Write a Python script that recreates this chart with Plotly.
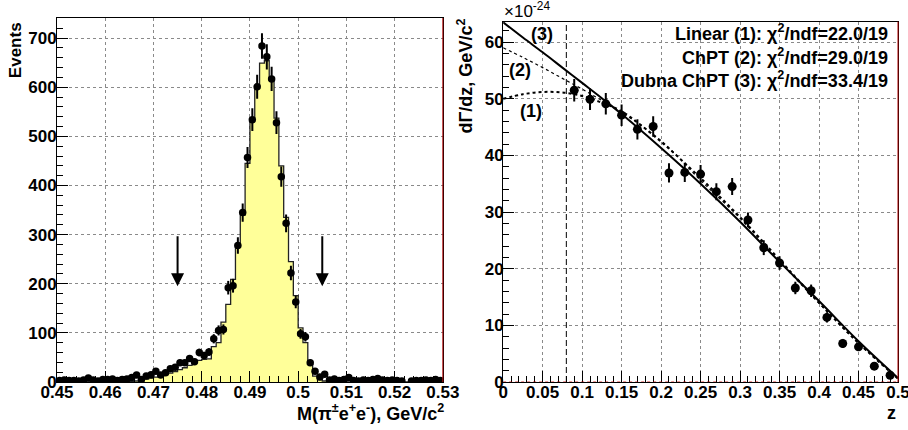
import numpy as np
import plotly.graph_objects as go
from plotly.subplots import make_subplots

# ---------------- left panel data ----------------
mass_centers = [round(0.4505 + 0.001 * i, 4) for i in range(80)]
data_events = [3, 4, 3, 3, 2, 4, 8, 4, 2, 5,
               5, 6, 3, 5, 6, 9, 14, 5, 12, 15,
               22, 14, 19, 27, 30, 39, 39, 48, 41, 60,
               54, 61, 88, 105, 107, 192, 196, 278, 345, 457,
               534, 601, 684, 662, 617, 528, 418, 323, 222, 163,
               98, 92, 39, 22, 10, 16, 4, 6, 3, 5,
               9, 3, 2, 4, 3, 5, 7, 4, 3, 4,
               3, 2, None, 2, 3, 3, 4, 3, 5, 3]
mc_events = [0, 0, 0, 0, 0, 0, 0, 0, 0, 1,
             1, 1, 1, 1, 1, 1, 2, 4, 6, 8,
             10, 12, 15, 18, 21, 25, 29, 34, 40, 44,
             46, 47, 72, 80, 122, 158, 209, 280, 340, 445,
             537, 601, 649, 654, 615, 537, 440, 335, 245, 176,
             110, 80, 36, 12, 5, 2, 1, 1, 1, 0,
             0, 0, 0, 0, 0, 0, 0, 0, 0, 0,
             0, 0, 0, 0, 0, 0, 0, 0, 0, 0]
mass_cuts = [0.475, 0.505]
arrow_tail, arrow_tip = 300, 195
mass_ticks = [0.45, 0.46, 0.47, 0.48, 0.49, 0.50, 0.51, 0.52, 0.53]
mass_tick_text = ["0.45", "0.46", "0.47", "0.48", "0.49", "0.5", "0.51", "0.52", "0.53"]
events_ticks = [0, 100, 200, 300, 400, 500, 600, 700]
events_tick_text = ["0", "100", "200", "300", "400", "500", "600", "700"]

# ---------------- right panel data ----------------
z_points = [0.09, 0.11, 0.13, 0.15, 0.17, 0.19, 0.21, 0.23, 0.25, 0.27, 0.29,
            0.31, 0.33, 0.35, 0.37, 0.39, 0.41, 0.43, 0.45, 0.47, 0.49]
rate_values = [51.5, 49.9, 49.1, 47.1, 44.6, 45.1, 36.9, 37.0, 36.7, 33.6, 34.5,
               28.6, 23.7, 21.0, 16.6, 16.1, 11.4, 6.8, 6.2, 2.8, 1.2]
rate_errors = [2.0, 1.9, 1.9, 1.9, 1.8, 1.8, 1.7, 1.7, 1.6, 1.5, 1.5,
               1.3, 1.3, 1.2, 1.1, 1.1, 0.9, 0.8, 0.7, 0.5, 0.4]
z_curve = [0, 0.025, 0.05, 0.075, 0.1, 0.125, 0.15, 0.2, 0.25, 0.3, 0.35, 0.4, 0.45, 0.5]
curve_linear = [50.0, 50.8, 51.2, 51.1, 50.5, 49.3, 47.8, 42.4, 36.0, 29.1, 21.6, 14.0, 6.9, 0.6]
curve_chpt = [59.0, 57.3, 55.5, 53.6, 51.7, 49.7, 47.6, 42.6, 35.6, 28.9, 21.3, 13.9, 6.8, 0.6]
curve_dubna = [63.5, 60.8, 58.2, 55.5, 52.8, 50.1, 47.3, 41.3, 35.0, 28.3, 21.2, 14.3, 7.2, 0.7]
z_cut = 0.08
z_ticks = [0, 0.05, 0.1, 0.15, 0.2, 0.25, 0.3, 0.35, 0.4, 0.45, 0.5]
z_tick_text = ["0", "0.05", "0.1", "0.15", "0.2", "0.25", "0.3", "0.35", "0.4", "0.45", "0.5"]
rate_ticks = [0, 10, 20, 30, 40, 50, 60]
rate_tick_text = ["0", "10", "20", "30", "40", "50", "60"]
fit_labels = ["Linear (1): \u03c7<sup>2</sup>/ndf=22.0/19",
              "ChPT (2): \u03c7<sup>2</sup>/ndf=29.0/19",
              "Dubna ChPT (3): \u03c7<sup>2</sup>/ndf=33.4/19"]


def b(s):
    return "<b>" + s + "</b>"


FONT = "Liberation Sans"
W, H = 908, 430

fig = make_subplots(rows=1, cols=2)

# MC histogram fill + outline
fig.add_trace(go.Bar(x=mass_centers, y=mc_events, width=0.001,
                     marker=dict(color="#ffff99", line=dict(width=0)),
                     showlegend=False, hoverinfo="skip"), row=1, col=1)
fig.add_trace(go.Scatter(x=mass_centers, y=mc_events, mode="lines",
                         line=dict(shape="hvh", color="#222222", width=1.3),
                         showlegend=False, hoverinfo="skip"), row=1, col=1)
errs = [None if v is None else float(np.sqrt(v)) for v in data_events]
fig.add_trace(go.Scatter(x=mass_centers, y=data_events, mode="markers",
                         marker=dict(color="black", size=7.5, symbol="circle"),
                         error_y=dict(type="data", array=errs, thickness=2, width=0, color="black"),
                         showlegend=False), row=1, col=1)

# right panel curves
fig.add_trace(go.Scatter(x=z_curve, y=curve_linear, mode="lines",
                         line=dict(color="black", width=2, dash="dot", shape="spline"),
                         showlegend=False), row=1, col=2)
fig.add_trace(go.Scatter(x=z_curve, y=curve_chpt, mode="lines",
                         line=dict(color="black", width=1.2, dash="dot", shape="spline"),
                         showlegend=False), row=1, col=2)
fig.add_trace(go.Scatter(x=z_curve, y=curve_dubna, mode="lines",
                         line=dict(color="black", width=2, shape="spline"),
                         showlegend=False), row=1, col=2)
fig.add_trace(go.Scatter(x=z_points, y=rate_values, mode="markers",
                         marker=dict(color="black", size=9),
                         error_y=dict(type="data", array=rate_errors, thickness=2, width=0, color="black"),
                         showlegend=False), row=1, col=2)

fig.add_vline(x=z_cut, line=dict(color="black", width=1, dash="6px,3px"), row=1, col=2)
fig.add_hline(y=0, line=dict(color="rgba(210,0,0,0.8)", width=1, dash="dot"), row=1, col=2)

tickfont = dict(family=FONT, size=17, color="black", weight="bold")
grid = dict(showgrid=True, gridcolor="#8a8a8a", griddash="dot", gridwidth=1,
            zeroline=False, showline=True, linecolor="black", linewidth=1, mirror=True,
            ticks="inside", ticklen=11, tickcolor="black", tickwidth=1, tickfont=tickfont,
            automargin=False, ticklabeloverflow="allow")

fig.update_xaxes(range=[0.45, 0.53], tickvals=mass_ticks, ticktext=[b(t) for t in mass_tick_text],
                 minor=dict(dtick=0.002, tick0=0.45, ticklen=6, ticks="inside", tickcolor="black", showgrid=False),
                 domain=[0, 0.4588], ticklabelstandoff=-5, **grid, row=1, col=1)
fig.update_yaxes(range=[0, 741], tickvals=events_ticks, ticktext=[b(t) for t in events_tick_text],
                 minor=dict(dtick=20, tick0=0, ticklen=6, ticks="inside", tickcolor="black", showgrid=False),
                 domain=[0, 1], ticklabelstandoff=-4, **grid, row=1, col=1)
fig.update_xaxes(range=[0, 0.5], tickvals=z_ticks, ticktext=[b(t) for t in z_tick_text],
                 minor=dict(dtick=0.01, tick0=0, ticklen=6, ticks="inside", tickcolor="black", showgrid=False),
                 domain=[0.5305, 1], ticklabelstandoff=-5, **grid, row=1, col=2)
fig.update_yaxes(range=[0, 63.6], tickvals=rate_ticks, ticktext=[b(t) for t in rate_tick_text],
                 minor=dict(dtick=2, tick0=0, ticklen=6, ticks="inside", tickcolor="black", showgrid=False),
                 domain=[0, 0.9898], ticklabelstandoff=-5, **grid, row=1, col=2)

# cut arrows
for c in mass_cuts:
    fig.add_annotation(x=c, y=arrow_tip, ax=c, ay=arrow_tail, xref="x", yref="y", axref="x", ayref="y",
                       showarrow=True, arrowhead=2, arrowsize=1.3, arrowwidth=2, arrowcolor="black", text="")

afont = dict(family=FONT, size=18, color="black", weight="bold")
# axis titles
fig.add_annotation(text=b("M(\u03c0<sup>\u00b1</sup>e<sup>+</sup>e<sup>-</sup>), GeV/c<sup>2</sup>"),
                   xref="x domain", yref="y domain", x=1.007, y=-0.083, xanchor="right", yanchor="middle",
                   showarrow=False, font=afont)
fig.add_annotation(text=b("Events"), textangle=-90, xref="x domain", yref="y domain",
                   x=-0.108, y=0.995, xanchor="center", yanchor="top", showarrow=False,
                   font=dict(family=FONT, size=17, color="black", weight="bold"))
fig.add_annotation(text=b("z"), xref="x2 domain", yref="y2 domain", x=1.0, y=-0.085,
                   xanchor="right", yanchor="middle", showarrow=False, font=afont)
fig.add_annotation(text=b("d\u0393/dz, GeV/c<sup>2</sup>"), textangle=-90, xref="x2 domain", yref="y2 domain",
                   x=-0.095, y=1.015, xanchor="center", yanchor="top", showarrow=False, font=afont)
fig.add_annotation(text="\u00d710<sup>-24</sup>", xref="x2 domain", yref="y2 domain",
                   x=-0.003, y=0.996, xanchor="left", yanchor="bottom", showarrow=False,
                   font=dict(family=FONT, size=17, color="black"))

# fit legend
for lbl, yy in zip(fit_labels, [0.959, 0.893, 0.830]):
    fig.add_annotation(text=b(lbl), xref="x2 domain", yref="paper", x=0.98, y=yy,
                       xanchor="right", yanchor="middle", showarrow=False, font=afont)
# curve labels
for lbl, xx, yy in [("(3)", 0.098, 0.955), ("(2)", 0.043, 0.857), ("(1)", 0.07, 0.745)]:
    fig.add_annotation(text=b(lbl), xref="x2 domain", yref="paper", x=xx, y=yy,
                       xanchor="center", yanchor="middle", showarrow=False, font=afont)

# red right edges of frames
for xr, yr in [("x domain", "y domain"), ("x2 domain", "y2 domain")]:
    fig.add_shape(type="line", xref=xr, yref=yr, x0=1, x1=1, y0=0, y1=1,
                  line=dict(color="#b00000", width=1), layer="above")

fig.update_layout(width=W, height=H, margin=dict(l=57, r=10, t=18, b=48, autoexpand=False),
                  paper_bgcolor="white", plot_bgcolor="white", bargap=0,
                  showlegend=False, font=dict(family=FONT, color="black"))

fig.write_html("out.html", config={"displayModeBar": False},
               post_script="document.body.style.margin='0px';document.body.style.overflow='hidden';")
